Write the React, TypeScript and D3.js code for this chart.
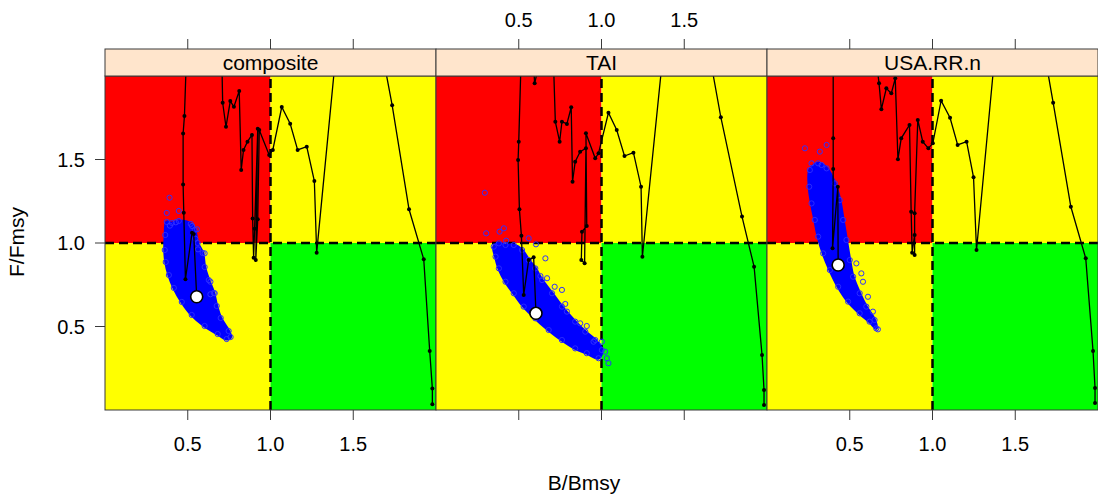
import React from "react";
import * as d3 from "d3";

type P = [number, number];

const panelNames = ["composite", "TAI", "USA.RR.n"];
const xTicks = [0.5, 1.0, 1.5];
const yTicks = [0.5, 1.0, 1.5];
const tickLabels = ["0.5", "1.0", "1.5"];

// Historical B/Bmsy, F/Fmsy trajectories (early -> recent)
const trajComposite: P[] = [
  [1.978, 0.034], [1.978, 0.128], [1.962, 0.353], [1.926, 0.902], [1.837, 1.202], [1.735, 1.825],
  [1.55, 2.8], [1.46, 2.8], [1.279, 0.942], [1.265, 1.371], [1.219, 1.577], [1.164, 1.557],
  [1.119, 1.714], [1.068, 1.814], [1.014, 1.557], [0.992, 1.527], [0.932, 1.677], [0.923, 1.142],
  [0.911, 0.898], [0.923, 1.684], [0.904, 1.086], [0.898, 0.912], [0.892, 1.146], [0.888, 1.647],
  [0.861, 1.607], [0.837, 1.557], [0.823, 1.437], [0.811, 1.910], [0.779, 1.816], [0.757, 1.850],
  [0.731, 1.696], [0.711, 1.840], [0.698, 2.5], [0.505, 2.5], [0.480, 1.760], [0.472, 1.655],
  [0.472, 1.351], [0.476, 1.181], [0.486, 0.783], [0.526, 1.062], [0.536, 1.054], [0.554, 0.678],
];
const trajTAI: P[] = [
  [1.982, 0.03], [1.982, 0.12], [1.97, 0.33], [1.922, 0.858], [1.849, 1.158], [1.721, 1.753],
  [1.53, 2.8], [1.44, 2.8], [1.247, 0.918], [1.239, 1.337], [1.193, 1.541], [1.139, 1.521],
  [1.092, 1.677], [1.042, 1.780], [0.982, 1.537], [0.962, 1.507], [0.906, 1.657], [0.911, 1.102],
  [0.882, 1.068], [0.878, 0.898], [0.898, 0.878], [0.906, 1.567], [0.871, 1.547], [0.841, 1.487],
  [0.825, 1.367], [0.817, 1.813], [0.791, 1.713], [0.761, 1.726], [0.747, 1.607], [0.721, 1.726],
  [0.70, 2.4], [0.596, 1.956], [0.57, 2.4], [0.52, 2.3], [0.500, 1.607], [0.496, 1.497],
  [0.504, 1.202], [0.516, 1.044], [0.530, 0.689], [0.560, 0.898], [0.590, 0.914], [0.604, 0.579],
];
const trajUSA: P[] = [
  [1.982, 0.042], [1.982, 0.132], [1.970, 0.353], [1.926, 0.908], [1.836, 1.217], [1.729, 1.840],
  [1.56, 2.8], [1.44, 2.8], [1.266, 0.958], [1.248, 1.393], [1.206, 1.607], [1.152, 1.587],
  [1.106, 1.750], [1.052, 1.852], [1.002, 1.597], [0.975, 1.567], [0.941, 1.607], [0.911, 1.737],
  [0.892, 1.178], [0.892, 0.928], [0.892, 1.048], [0.877, 0.942], [0.871, 1.187], [0.861, 1.707],
  [0.811, 1.627], [0.791, 1.501], [0.775, 1.986], [0.751, 1.896], [0.721, 1.926], [0.691, 1.801],
  [0.677, 1.956], [0.60, 2.6], [0.40, 2.6], [0.400, 1.627], [0.400, 1.443], [0.396, 0.968],
  [0.428, 1.337], [0.430, 0.868],
];

// Outline of the dense cloud of uncertainty samples
const cloudComposite: P[] = [
  [0.373, 1.126], [0.364, 1.048], [0.361, 0.958], [0.367, 0.886], [0.386, 0.808], [0.416, 0.731],
  [0.464, 0.647], [0.524, 0.569], [0.602, 0.503], [0.681, 0.455], [0.735, 0.425], [0.759, 0.437],
  [0.747, 0.473], [0.699, 0.551], [0.675, 0.623], [0.657, 0.701], [0.627, 0.778], [0.602, 0.856],
  [0.590, 0.940], [0.560, 1.000], [0.542, 1.078], [0.518, 1.114], [0.446, 1.132], [0.404, 1.120],
];
const cloudTAI: P[] = [
  [0.349, 0.978], [0.360, 0.918], [0.380, 0.848], [0.420, 0.768], [0.470, 0.699], [0.530, 0.619],
  [0.600, 0.549], [0.681, 0.479], [0.761, 0.419], [0.841, 0.369], [0.911, 0.340], [0.982, 0.310],
  [1.002, 0.359], [0.962, 0.419], [0.902, 0.469], [0.841, 0.529], [0.761, 0.619], [0.701, 0.699],
  [0.641, 0.778], [0.600, 0.848], [0.560, 0.898], [0.520, 0.958], [0.470, 0.988], [0.420, 0.988],
  [0.380, 0.998],
];
const cloudUSA: P[] = [
  [0.259, 1.437], [0.255, 1.337], [0.269, 1.237], [0.289, 1.138], [0.309, 1.038], [0.339, 0.938],
  [0.380, 0.838], [0.430, 0.738], [0.490, 0.649], [0.560, 0.579], [0.620, 0.529], [0.660, 0.489],
  [0.650, 0.539], [0.600, 0.619], [0.560, 0.699], [0.520, 0.798], [0.500, 0.898], [0.480, 1.018],
  [0.460, 1.138], [0.440, 1.257], [0.410, 1.357], [0.360, 1.447], [0.309, 1.477],
];

// Scattered samples outside the dense cloud
const outliersComposite: P[] = [
  [0.390, 1.271], [0.373, 1.180], [0.446, 1.192], [0.392, 1.104], [0.428, 1.124], [0.526, 1.102],
  [0.556, 1.082], [0.546, 1.026], [0.562, 0.962], [0.602, 0.938], [0.637, 0.768], [0.663, 0.699],
  [0.637, 0.693],
];
const outliersTAI: P[] = [
  [0.295, 1.301], [0.303, 1.058], [0.384, 1.068], [0.410, 1.088], [0.424, 1.014], [0.560, 1.028],
  [0.604, 0.992], [0.661, 0.908], [0.631, 0.802], [0.671, 0.789], [0.717, 0.738], [0.761, 0.719],
  [0.781, 0.635], [0.791, 0.589], [0.871, 0.519], [0.911, 0.503], [0.952, 0.409], [1.002, 0.409],
  [1.022, 0.349], [1.032, 0.310], [1.042, 0.280],
];
const outliersUSA: P[] = [
  [0.229, 1.567], [0.319, 1.547], [0.360, 1.587], [0.269, 1.477], [0.330, 1.467], [0.540, 0.878],
  [0.570, 0.818], [0.580, 0.768], [0.610, 0.678], [0.640, 0.589], [0.670, 0.483],
];

const current: P[] = [[0.554, 0.678], [0.604, 0.579], [0.430, 0.868]];

const trajs = [trajComposite, trajTAI, trajUSA];
const clouds = [cloudComposite, cloudTAI, cloudUSA];
const outliers = [outliersComposite, outliersTAI, outliersUSA];

const W = 1098;
const H = 494;
const panelLefts = [105, 436, 767];
const panelW = 331;
const plotTop = 76;
const plotBottom = 410;
const stripTop = 49;
const font = "'Liberation Sans', Arial, Helvetica, sans-serif";
const frame = "#3a3a3a";

export default function App() {
  const y = d3.scaleLinear().domain([0, 2]).range([plotBottom, plotTop]);
  return (
    <svg width={W} height={H} style={{ position: "absolute", left: 0, top: 0, background: "#fff" }}
      fontFamily={font}>
      <defs>
        {panelLefts.map((l, i) => (
          <clipPath id={`clip${i}`} key={i}>
            <rect x={l} y={plotTop} width={panelW} height={plotBottom - plotTop} />
          </clipPath>
        ))}
      </defs>
      {panelNames.map((name, i) => {
        const l = panelLefts[i];
        const x = d3.scaleLinear().domain([0, 2]).range([l, l + panelW]);
        const line = d3.line<P>().x((d) => x(d[0])).y((d) => y(d[1]));
        const cloudPath = d3.line<P>().x((d) => x(d[0])).y((d) => y(d[1])).curve(d3.curveCatmullRomClosed);
        const traj = trajs[i];
        return (
          <g key={name}>
            <g clipPath={`url(#clip${i})`}>
              <rect x={x(0)} y={y(2)} width={x(1) - x(0)} height={y(1) - y(2)} fill="#ff0000" />
              <rect x={x(1)} y={y(2)} width={x(2) - x(1)} height={y(1) - y(2)} fill="#ffff00" />
              <rect x={x(0)} y={y(1)} width={x(1) - x(0)} height={y(0) - y(1)} fill="#ffff00" />
              <rect x={x(1)} y={y(1)} width={x(2) - x(1)} height={y(0) - y(1)} fill="#00ff00" />
              <line x1={x(0)} x2={x(2)} y1={y(1)} y2={y(1)} stroke="#000" strokeWidth={2.5} strokeDasharray="9,5" />
              <line x1={x(1)} x2={x(1)} y1={y(0)} y2={y(2)} stroke="#000" strokeWidth={2.5} strokeDasharray="9,5" />
              <path d={cloudPath(clouds[i]) || ""} fill="#0000ff" stroke="#0000ff" strokeWidth={3} />
              {clouds[i].map((d, k) => (
                <circle key={`c${k}`} cx={x(d[0])} cy={y(d[1])} r={2.6} fill="none" stroke="#2a2aff" strokeWidth={1} />
              ))}
              {outliers[i].map((d, k) => (
                <circle key={`o${k}`} cx={x(d[0])} cy={y(d[1])} r={2.6} fill="none" stroke="#3030ff" strokeWidth={1} />
              ))}
              <path d={line(traj) || ""} fill="none" stroke="#000" strokeWidth={1.3} />
              {traj.map((d, k) => (
                <circle key={`t${k}`} cx={x(d[0])} cy={y(d[1])} r={2} fill="#000" />
              ))}
              <circle cx={x(current[i][0])} cy={y(current[i][1])} r={6} fill="#fff" stroke="#000" strokeWidth={1.6} />
            </g>
            <rect x={l} y={plotTop} width={panelW} height={plotBottom - plotTop} fill="none" stroke={frame} strokeWidth={1} />
            <rect x={l} y={stripTop} width={panelW} height={plotTop - stripTop} fill="#ffe5cc" stroke={frame} strokeWidth={1} />
            <text x={l + panelW / 2} y={70} textAnchor="middle" fontSize={21} fill="#000">{name}</text>
            {xTicks.map((t, k) => (
              <g key={`xt${k}`}>
                <line x1={x(t)} x2={x(t)} y1={plotBottom} y2={plotBottom + 10} stroke={frame} />
                <line x1={x(t)} x2={x(t)} y1={stripTop} y2={stripTop - 10} stroke={frame} />
                {i !== 1 && (
                  <text x={x(t)} y={451} textAnchor="middle" fontSize={20} fill="#000">{tickLabels[k]}</text>
                )}
                {i === 1 && (
                  <text x={x(t)} y={27} textAnchor="middle" fontSize={20} fill="#000">{tickLabels[k]}</text>
                )}
              </g>
            ))}
          </g>
        );
      })}
      {yTicks.map((t, k) => (
        <g key={`yt${k}`}>
          <line x1={panelLefts[0] - 10} x2={panelLefts[0]} y1={y(t)} y2={y(t)} stroke={frame} />
          <text x={85} y={y(t) + 7} textAnchor="end" fontSize={20} fill="#000">{tickLabels[k]}</text>
        </g>
      ))}
      <text transform={`translate(24,242) rotate(-90)`} textAnchor="middle" fontSize={21} fill="#000">F/Fmsy</text>
      <text x={584} y={490} textAnchor="middle" fontSize={21} fill="#000">B/Bmsy</text>
    </svg>
  );
}
